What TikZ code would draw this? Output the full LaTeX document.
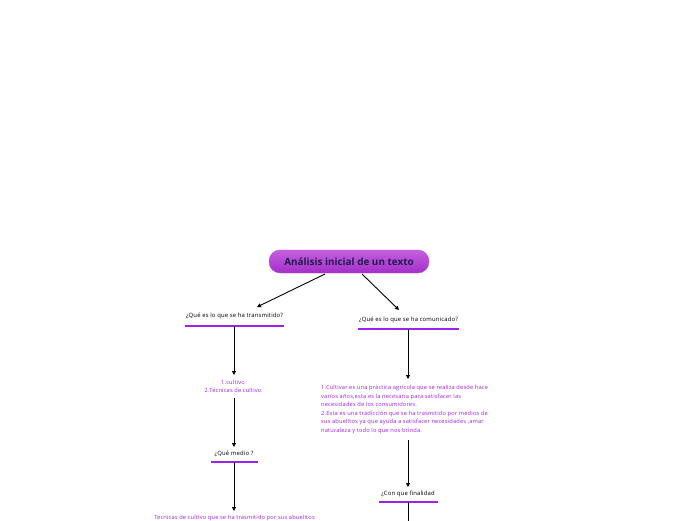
\documentclass[tikz,border=0pt]{standalone}
\usepackage{fontspec}
\setmainfont{Open Sans}
\usetikzlibrary{arrows.meta}
\definecolor{topicviolet}{HTML}{A020F0}
\definecolor{titlenavy}{HTML}{1E1B4B}
\definecolor{pilltop}{HTML}{C45FE0}
\definecolor{pillbot}{HTML}{A32FC8}
\tikzset{
  conn/.style={draw=black, line width=0.9pt, -{Triangle[length=4pt,width=4pt]}},
  plainconn/.style={draw=black, line width=0.9pt},
  question/.style={font=\fontsize{5.9}{7}\selectfont\addfontfeature{LetterSpace=3}, text=black, inner sep=1pt},
  uline/.style={draw=topicviolet, line width=1.3pt},
  answer/.style={font=\fontsize{5.7}{8.6}\selectfont\addfontfeature{LetterSpace=3}, text=topicviolet, inner sep=0pt},
}
\begin{document}
\begin{tikzpicture}[x=1pt,y=-1pt]
\useasboundingbox (0,0) rectangle (696,520);
% title
\node[rounded corners=11pt, top color=pilltop, bottom color=pillbot, draw=pillbot!80!white,
      minimum width=160pt, minimum height=23pt, inner sep=0pt,
      font=\bfseries\fontsize{9.9}{11}\selectfont, text=titlenavy] (title) at (349,261.5) {Análisis inicial de un texto};
% left branch
\node[question] (q1) at (234.5,316) {¿Qué es lo que se ha transmitido?};
\coordinate (q1a) at (185,326); \coordinate (q1b) at (284,326);
\draw[uline] (q1a) -- (q1b);
\coordinate (q1bot) at (234,326);
\node[answer, align=center] (a1) at (233,386.5) {1.cultivo\\2.Técnicas de cultivo};
\node[question] (q3) at (234,454) {¿Qué medio ?};
\coordinate (q3a) at (211,462); \coordinate (q3b) at (258,462);
\draw[uline] (q3a) -- (q3b);
\coordinate (q3bot) at (234,462);
\node[answer] (a3) at (234.5,518) {Tecnicas de cultivo que se ha trasmitido por sus abuelitos};
% right branch
\node[question] (q2) at (408.5,319.5) {¿Qué es lo que se ha comunicado?};
\coordinate (q2a) at (358,329); \coordinate (q2b) at (459,329);
\draw[uline] (q2a) -- (q2b);
\coordinate (q2bot) at (408,329);
\node[answer, align=left, anchor=north west] (a2) at (321,385) {1.Cultivar es una práctica agrícola que se realiza desde hace\\varios años,esta es la necesaria para satisfacer las\\necesidades de los consumidores.\\2.Esta es una tradicción que se ha trasmitido por medios de\\sus abuelitos ya que ayuda a satisfacer necesidades ,amar\\naturaleza y todo lo que nos brinda.};
\node[question] (q4) at (408,494) {¿Con que finalidad};
\coordinate (q4a) at (379,502); \coordinate (q4b) at (438,502);
\draw[uline] (q4a) -- (q4b);
\coordinate (q4bot) at (408,502);
\coordinate (q4end) at (408,521);
% connectors
\coordinate (t1) at (325,274); \coordinate (t2) at (362,274);
\draw[conn] (t1) -- (257,307);
\draw[conn] (t2) -- (399,310);
\draw[conn] (q1bot) -- (234,375);
\draw[conn] (234,398) -- (234,447);
\draw[conn] (q3bot) -- (234,511);
\draw[conn] (q2bot) -- (408,379);
\draw[conn] (408,440) -- (408,487);
\draw[plainconn] (q4bot) -- (q4end);
\end{tikzpicture}
\end{document}
